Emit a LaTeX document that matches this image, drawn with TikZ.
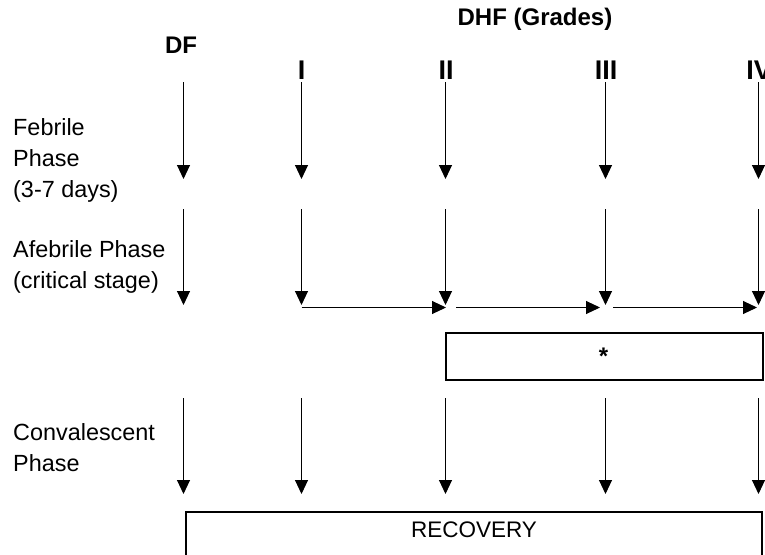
\documentclass[tikz,border=0pt]{standalone}
\usepackage{fontspec}
\setmainfont{Liberation Sans}
\usetikzlibrary{arrows.meta}
\begin{document}
\begin{tikzpicture}[x=1pt,y=-1pt,
  conn/.style={line width=1pt,-{Triangle[length=14pt,width=13pt]}},
  lbl/.style={font=\fontsize{23.4}{31}\selectfont,align=left,anchor=base west,inner sep=0pt},
  hdr/.style={font=\bfseries\fontsize{24}{28}\selectfont,inner sep=0pt},
  grade/.style={font=\bfseries\fontsize{27}{30}\selectfont,inner sep=0pt},
  boxline/.style={draw,line width=2pt},
  boxtext/.style={font=\fontsize{22.5}{26}\selectfont,inner sep=0pt}]
\useasboundingbox (0,0) rectangle (765,554);

% headers
\node[hdr] (dhf) at (535,19) {DHF (Grades)};
\node[hdr] (df) at (181,45) {DF};
\node[grade] (gI) at (301.5,70) {I};
\node[grade] (gII) at (446,70) {II};
\node[grade] (gIII) at (606,70) {III};
\node[grade] (gIV) at (759,70) {IV};

% phase labels (anchored at the baseline of the last line)
\node[lbl] (feb) at (13,197) {Febrile\\Phase\\(3-7 days)};
\node[lbl] (afeb) at (13,288) {Afebrile Phase\\(critical stage)};
\node[lbl] (conv) at (13,471) {Convalescent\\Phase};

% column coordinates
\foreach \n/\x in {c0/183.5, c1/301.5, c2/445.5, c3/605.5, c4/758.5}{
  \coordinate (\n-a) at (\x,82);
  \coordinate (\n-b) at (\x,179);
  \coordinate (\n-c) at (\x,209);
  \coordinate (\n-d) at (\x,305);
  \coordinate (\n-e) at (\x,398);
  \coordinate (\n-f) at (\x,494);
}
\foreach \n in {c0,c1,c2,c3,c4}{
  \draw[conn] (\n-a) -- (\n-b);
  \draw[conn] (\n-c) -- (\n-d);
  \draw[conn] (\n-e) -- (\n-f);
}

% horizontal connectors
\coordinate (h1s) at (301.5,307.5);
\coordinate (h1e) at (446,307.5);
\coordinate (h2s) at (456,307.5);
\coordinate (h2e) at (600,307.5);
\coordinate (h3s) at (613,307.5);
\coordinate (h3e) at (757,307.5);
\draw[conn] (h1s) -- (h1e);
\draw[conn] (h2s) -- (h2e);
\draw[conn] (h3s) -- (h3e);

% boxes
\node[boxline,anchor=north west,minimum width=317pt,minimum height=47pt,inner sep=0pt] (star) at (445,332) {};
\node[boxtext,font=\bfseries\fontsize{24}{28}\selectfont] (startext) at (603.5,356) {*};
\draw[boxline] (186,512) rectangle (762,562);
\node[boxtext] (rec) at (474,530) {RECOVERY};
\end{tikzpicture}
\end{document}
